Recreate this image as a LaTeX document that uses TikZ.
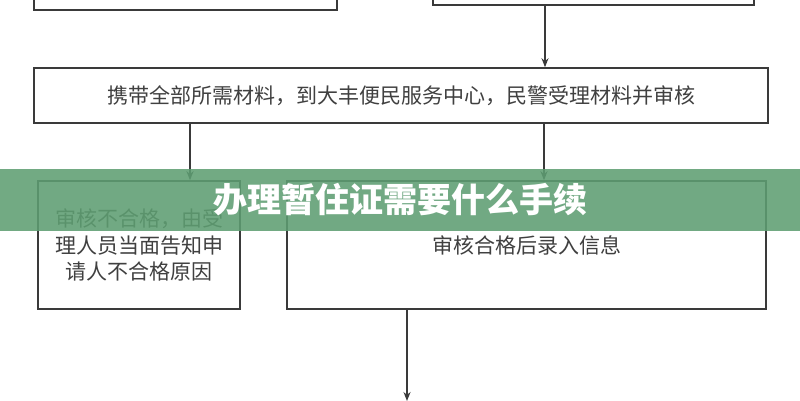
\documentclass[tikz,border=0pt]{standalone}
\usepackage{fontspec}
\newfontfamily\cjk{Noto Sans CJK SC}
\usetikzlibrary{arrows.meta}
\definecolor{boxline}{HTML}{3A3A3A}
\definecolor{boxtext}{HTML}{404040}
\definecolor{banner}{HTML}{5E9E72}

\begin{document}
\begin{tikzpicture}[x=1pt,y=-1pt,
        box/.style={draw=boxline,line width=1.6pt,fill=white,inner sep=0pt,
            font=\cjk\fontsize{21}{26.5}\selectfont,text=boxtext,align=center},
        flow/.style={draw=boxline,line width=1.4pt,-{Stealth[length=9pt,width=7pt]}}]

        \useasboundingbox (0,0) rectangle (800,400);
        \clip (0,0) rectangle (800,400);

        % Top boxes (cut off by the page)
        \node[box,minimum width=303pt,minimum height=60pt] (topl) at (185.5,-20) {};
        \node[box,minimum width=321pt,minimum height=60pt] (topr) at (593.5,-25) {};

        % Hand in materials
        \node[box,minimum width=734pt,minimum height=55pt] (hand) at (401,95.5)
            {携带全部所需材料，到大丰便民服务中心，民警受理材料并审核};

        % Results of the check
        \node[box,minimum width=202pt,minimum height=128pt] (fail) at (139,245)
            {审核不合格，由受\\理人员当面告知申\\请人不合格原因};
        \node[box,minimum width=479pt,minimum height=128pt] (pass) at (526.5,245)
            {审核合格后录入信息};

        % Arrows
        \coordinate (a1) at (545,0);
        \coordinate (a2) at (190,0);
        \coordinate (a3) at (544,0);
        \coordinate (a4) at (407,0);
        \coordinate (exit) at (407,401);
        \draw[flow] (a1 |- topr.south) -- (a1 |- hand.north);
        \draw[flow] (a2 |- hand.south) -- (a2 |- fail.north);
        \draw[flow] (a3 |- hand.south) -- (a3 |- pass.north);
        \draw[flow] (a4 |- pass.south) -- (exit);

        % Title banner
        \fill[banner,opacity=0.88] (0,169) rectangle (800,231);
        \node[text=white,font=\cjk\bfseries\fontsize{34}{34}\selectfont] (title) at (400,200)
            {办理暂住证需要什么手续};

\end{tikzpicture}
\end{document}
